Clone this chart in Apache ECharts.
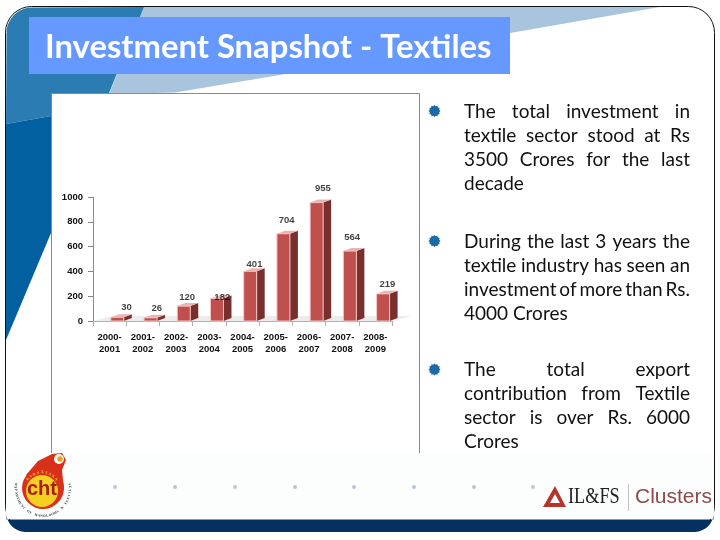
<!DOCTYPE html>
<html><head><meta charset="utf-8">
<style>html,body{margin:0;padding:0;background:#fff}#c{width:720px;height:540px}</style>
<script src="https://cdn.jsdelivr.net/npm/echarts@6/dist/echarts.min.js"></script>
</head><body><div id="c"></div>
<script>
const categories = ['2000-\n2001','2001-\n2002','2002-\n2003','2003-\n2004','2004-\n2005','2005-\n2006','2006-\n2007','2007-\n2008','2008-\n2009'];
const investment = [30,26,120,182,401,704,955,564,219];
const yTicks = [0,200,400,600,800,1000];
const titleText = 'Investment Snapshot - Textiles';
const bullets = [
 {y:111,lines:['The total investment in','textile sector stood at Rs','3500 Crores for the last','decade']},
 {y:241,lines:['During the last 3 years the','textile industry has seen an','investment of more than Rs.','4000 Crores']},
 {y:369.5,lines:['The total export','contribution from Textile','sector is over Rs. 6000','Crores']}
];
const footerDotsX = [115,175,235,295,354,414,474,533];
const emblemTop = 'KARNATAKA';
const emblemRing = 'DEPARTMENT OF HANDLOOMS & TEXTILES';

const chart = echarts.init(document.getElementById('c'),null,{renderer:'canvas'});
const bodyFont = '19px Lato';
const mc = document.createElement('canvas').getContext('2d');
mc.font = bodyFont;
function starPts(cx,cy,r1,r2){
  const n=12,p=[];
  for(let i=0;i<n*2;i++){
    const r=i%2?r2:r1,a=Math.PI*i/n;
    p.push([cx+r*Math.cos(a),cy+r*Math.sin(a)]);
  }
  return p;
}
function textEls(){
  const out=[];
  bullets.forEach(b=>{
    out.push({type:'polygon',z:20,shape:{points:starPts(434.5,b.y,6,4.8)},style:{fill:'#1a6aa8'}});
    b.lines.forEach((ln,i)=>{
      const words=ln.split(' '), y=b.y+0.5+i*24, L=464, R=690;
      const last=i===b.lines.length-1;
      const total=words.reduce((s,w)=>s+mc.measureText(w).width,0);
      const gap=last?mc.measureText(' ').width:(R-L-total)/(words.length-1);
      let x=L;
      words.forEach(w=>{
        out.push({type:'text',z:20,style:{x:x,y:y,text:w,font:bodyFont,fill:'#111',textVerticalAlign:'middle',textBaseline:'middle'}});
        x+=mc.measureText(w).width+gap;
      });
    });
  });
  return out;
}
function arcPts(cx,cy,r,a0,a1){
  const p=[];
  for(let i=0;i<=10;i++){const a=(a0+(a1-a0)*i/10)*Math.PI/180;p.push([cx+r*Math.cos(a),cy+r*Math.sin(a)]);}
  return p;
}
// letters set along a circle around the emblem
function arcText(str,cx,cy,r,a0,a1,fill,size){
  const n=str.length;
  return str.split('').map((ch,i)=>{
    const deg=a0+(a1-a0)*i/(n-1), a=deg*Math.PI/180;
    const up=Math.sin(a)<0;
    return {type:'text',z:5,x:cx+r*Math.cos(a),y:cy+r*Math.sin(a),
      rotation:up?-(a+Math.PI/2):-(a-Math.PI/2),
      style:{x:0,y:0,text:ch,font:'bold '+size+'px "Liberation Serif"',fill:fill,textAlign:'center',textVerticalAlign:'middle',textBaseline:'middle'}};
  });
}
const R=26;
const backdrop=[
 {type:'rect',z:-10,shape:{x:5.5,y:6.5,width:709,height:525,r:R},style:{fill:'#fff',stroke:'#111',lineWidth:1}},
 {type:'polygon',z:-9,shape:{points:[[144,7],[660,7],[510,33],[280,75],[175,92.5],[109,94]]},style:{fill:'#a9c5dd'}},
 {type:'polygon',z:-8,shape:{points:[...arcPts(6+R,7+R,R-0.5,180,270),[144,7],[109,93],[108,128],[51,116],[6,124]]},style:{fill:'#2b7cb3'}},
 {type:'polygon',z:-8,shape:{points:[[6,124],[51,116],[51,233],[6,340]]},style:{fill:'#0260a0'}},
 {type:'rect',z:-5,shape:{x:51.5,y:93.5,width:368,height:400},style:{fill:'#fff',stroke:'#8a8a8a',lineWidth:1}},
 {type:'rect',z:-4,shape:{x:29,y:17,width:481,height:57},style:{fill:'#6699ff'}},
 {type:'text',z:10,style:{x:45,y:47,text:titleText,font:'bold 32.8px Lato',fill:'#fff',textVerticalAlign:'middle',textBaseline:'middle'}},
 {type:'rect',z:-3,shape:{x:6,y:453,width:708,height:66},style:{fill:'#fcfdfd'}},
 {type:'polygon',z:-2,shape:{points:[[6.5,519.5],[713.5,519.5],...arcPts(714-R+6,532-R+6,R-6,0,90),...arcPts(6+R-6,532-R+6,R-6,90,180)]},style:{fill:'#04315f'}},
 ...footerDotsX.map(x=>({type:'circle',z:1,shape:{cx:x,cy:487,r:2},style:{fill:'#b8c6d2'}})),
 // left emblem
 {type:'polygon',z:2,shape:{points:[[26,475],[38,461],[52,454],[62,453],[66,460],[62,470],[64,490]]},style:{fill:'#d9301c'}},
 {type:'circle',z:2,shape:{cx:43,cy:488,r:21},style:{fill:'#d9301c'}},
 {type:'circle',z:3,shape:{cx:59,cy:459,r:5},style:{fill:'#fcfdfd'}},
 {type:'circle',z:4,shape:{cx:60,cy:459,r:2.8},style:{fill:'#f0a020'}},
 {type:'circle',z:3,shape:{cx:42,cy:491,r:16},style:{fill:'#f5d020'}},
 {type:'text',z:4,style:{x:42,y:489,text:'cht',font:'bold 20px "Liberation Sans"',fill:'#a81e12',textAlign:'center',textVerticalAlign:'middle',textBaseline:'middle'}},
 ...arcText(emblemTop,42,491,18.5,-140,-40,'#f5d020',3.6),
 ...arcText(emblemRing,43,489,27,190,-10,'#333',3.4),
 // right logo
 {type:'polygon',z:3,shape:{points:[[543,507],[555,486],[566,507]]},style:{fill:'#b5342c'}},
 {type:'polygon',z:4,shape:{points:[[550,503],[555,494],[560,503]]},style:{fill:'#fcfdfd'}},
 {type:'text',z:3,x:568,y:497,scaleX:0.76,style:{x:0,y:0,text:'IL&FS',font:'24px "Liberation Serif"',fill:'#222',textVerticalAlign:'middle',textBaseline:'middle'}},
 {type:'rect',z:3,shape:{x:628,y:484,width:1,height:27},style:{fill:'#c4c4c4'}},
 {type:'text',z:3,style:{x:635,y:497,text:'Clusters',font:'21px "Liberation Sans"',fill:'#8c4a4a',textVerticalAlign:'middle',textBaseline:'middle'}},
 // chart floor
 {type:'polygon',z:5,shape:{points:[[93,321],[392,321],[412,316],[113,316]]},style:{fill:'#ececec'}},
];
function renderBar(params,api){
  const idx=api.value(0),val=api.value(1);
  const base=api.coord([idx,0]),top=api.coord([idx,val]);
  const w=13, d=8, dy=3;
  const x0=base[0]+1.2,x1=x0+w,yb=base[1],yt=top[1];
  return {type:'group',children:[
    {type:'polygon',shape:{points:[[x1,yb],[x1+d,yb-dy],[x1+d,yt-dy],[x1,yt]]},style:{fill:'#7a2f2f'}},
    {type:'polygon',shape:{points:[[x0,yt],[x0+d,yt-dy],[x1+d,yt-dy],[x1,yt]]},style:{fill:'#e8b4b2'}},
    {type:'rect',shape:{x:x0,y:yt,width:w,height:yb-yt},style:{fill:'#c0504d',stroke:'#f2c8c6',lineWidth:1}}
  ]};
}
// the source places each value label by hand: nudges from the default spot
const labelNudge = [[17,4.5],[14,4.5],[11,5],[13,13],[12,7],[11,0.5],[14,0],[10,0],[12,4.5]];
chart.setOption({
  animation:false,
  graphic:{elements:[...backdrop,...textEls()]},
  grid:{left:93,top:197,width:299,height:124,containLabel:false},
  xAxis:{type:'category',data:categories,boundaryGap:true,
    axisLine:{lineStyle:{color:'#b0b0b0'}},axisTick:{show:true,lineStyle:{color:'#b0b0b0'}},
    axisLabel:{interval:0,margin:11,fontFamily:'Liberation Sans',fontWeight:'bold',fontSize:9.5,color:'#111',lineHeight:11.5}},
  yAxis:{type:'value',min:0,max:1000,interval:200,
    splitLine:{show:false},axisLine:{show:true,lineStyle:{color:'#888'}},axisTick:{show:true,lineStyle:{color:'#888'}},
    axisLabel:{fontFamily:'Liberation Sans',fontWeight:'bold',fontSize:9.5,color:'#111',margin:10,
      formatter:v=>yTicks.includes(v)?String(v):''}},
  series:[
    {type:'custom',z:6,renderItem:renderBar,encode:{x:0,y:1},data:investment.map((v,i)=>[i,v]),clip:false},
    {type:'scatter',z:7,symbolSize:0,silent:true,
      data:investment.map((v,i)=>({value:[i,v],label:{offset:labelNudge[i]}})),
      label:{show:true,position:'top',distance:9,fontFamily:'Liberation Sans',fontWeight:'bold',fontSize:9.5,color:'#111',formatter:p=>String(p.value[1])}}
  ]
});
</script></body></html>
